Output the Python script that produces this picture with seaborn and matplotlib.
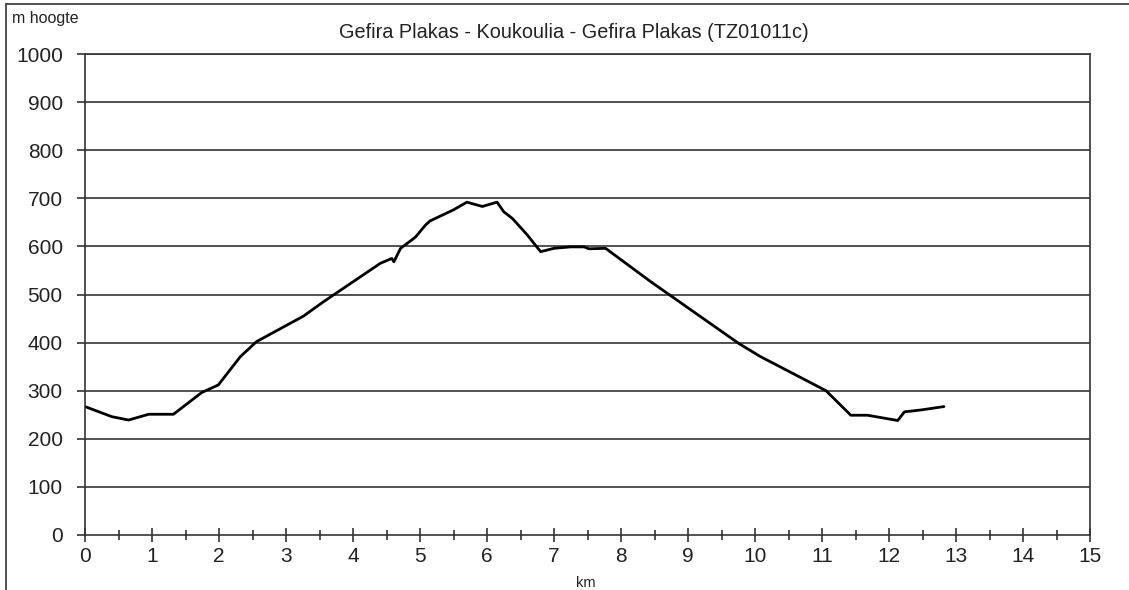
import matplotlib
matplotlib.use("Agg")
import matplotlib.pyplot as plt
import seaborn as sns
import pandas as pd
from matplotlib.lines import Line2D
from matplotlib.ticker import MultipleLocator

# ---- data ----
distance_km = [0.00, 0.40, 0.65, 0.95, 1.32, 1.74, 1.99, 2.32, 2.56, 3.26, 3.56,
               4.41, 4.58, 4.61, 4.71, 4.93, 5.08, 5.15, 5.50, 5.70, 5.93, 6.15,
               6.25, 6.38, 6.60, 6.80, 7.00, 7.25, 7.45, 7.52, 7.77, 8.44, 9.76,
               10.08, 11.06, 11.43, 11.68, 12.13, 12.23, 12.48, 12.82]
height_m = [267, 246, 239, 251, 251, 296, 312, 371, 402, 455, 485,
            565, 575, 568, 596, 619, 644, 653, 676, 692, 683, 692,
            672, 658, 624, 589, 596, 599, 599, 595, 596, 527, 398,
            371, 300, 249, 249, 238, 256, 260, 267]
x_ticks = list(range(0, 16))
y_ticks = list(range(0, 1001, 100))
title = "Gefira Plakas - Koukoulia - Gefira Plakas (TZ01011c)"
y_label = "m hoogte"
x_label = "km"

df = pd.DataFrame({"km": distance_km, "m": height_m})

sns.set_theme(style="white")
plt.rcParams["font.family"] = ["Liberation Sans", "DejaVu Sans"]

W, H = 1129, 590
fig = plt.figure(figsize=(W / 100, H / 100), dpi=100)
fig.patch.set_facecolor("white")
ax = fig.add_axes([85 / W, 1 - 535 / H, (1090 - 85) / W, (535 - 54) / H])

sns.lineplot(data=df, x="km", y="m", ax=ax, color="black", linewidth=2.0,
             estimator=None, sort=False)

ax.set_xlim(0, 15)
ax.set_ylim(0, 1000)
ax.set_xticks(x_ticks)
ax.set_yticks(y_ticks)
ax.xaxis.set_minor_locator(MultipleLocator(0.5))
ax.set_xlabel("")
ax.set_ylabel("")

gc = "#333333"
for y in y_ticks[1:]:
    ax.axhline(y, color=gc, linewidth=1.2, zorder=0)
for s in ax.spines.values():
    s.set_visible(True)
    s.set_color(gc)
    s.set_linewidth(1.2)

ax.tick_params(axis="y", which="major", direction="out", length=6, width=1.2,
               color=gc, pad=10, labelsize=15, labelcolor="#222222", left=True)
ax.tick_params(axis="x", which="major", direction="inout", length=10, width=1.2,
               color=gc, pad=4, labelsize=15, labelcolor="#222222", bottom=True)
ax.tick_params(axis="x", which="minor", direction="inout", length=7, width=1.2,
               color=gc, bottom=True)

fig.text(574 / W, 1 - 32 / H, title, ha="center", va="center", fontsize=14.3,
         color="#222222")
fig.text(12 / W, 1 - 18 / H, y_label, ha="left", va="center", fontsize=11.5,
         color="#222222")
fig.text(586 / W, 1 - 583 / H, x_label, ha="center", va="center", fontsize=10.5,
         color="#222222")

# outer frame (left and top edges)
fig.add_artist(Line2D([6 / W, 6 / W], [0, 1 - 4 / H], transform=fig.transFigure,
                      color=gc, linewidth=1.2))
fig.add_artist(Line2D([6 / W, 1], [1 - 4 / H, 1 - 4 / H], transform=fig.transFigure,
                      color=gc, linewidth=1.2))

fig.savefig("out.png", dpi=100, facecolor="white")
